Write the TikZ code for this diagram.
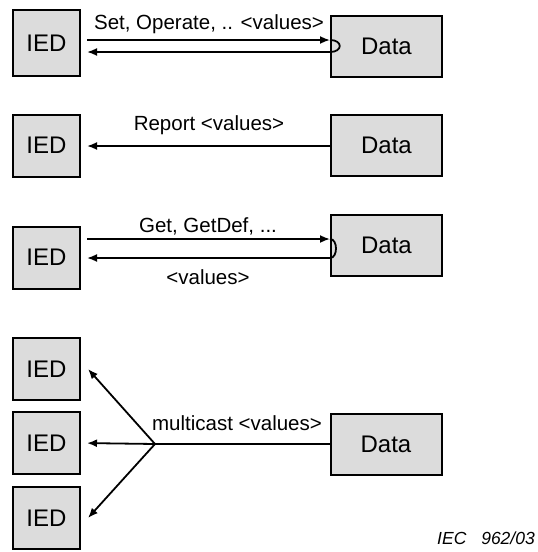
\documentclass[tikz,border=0pt]{standalone}
\usepackage{fontspec}
\setmainfont{Liberation Sans}
\usetikzlibrary{arrows.meta}
\definecolor{boxgray}{HTML}{DCDCDC}
\tikzset{
  box/.style={draw=black, line width=2pt, fill=boxgray, inner sep=0pt,
    font=\fontsize{24}{28}\selectfont},
  iedbox/.style={box, minimum width=67pt, minimum height=62pt},
  databox/.style={box, minimum width=111pt, minimum height=61pt},
  arr/.style={line width=1.8pt, -{Latex[length=10pt,width=8pt]}},
  plain/.style={line width=1.8pt},
  lbl/.style={font=\fontsize{20.5}{24}\selectfont, inner sep=0pt},
}
\begin{document}
\begin{tikzpicture}[x=1pt,y=-1pt]
\useasboundingbox (0,0) rectangle (538,552);
% row 1
\node[iedbox, minimum height=66pt] (i1) at (46.5,43) {IED};
\node[databox] (d1) at (386.5,46) {Data};
\coordinate (y1t) at (0,40);
\coordinate (y1b) at (0,52);
\draw[arr, shorten <=6pt] (i1.east |- y1t) -- (d1.west |- y1t);
\draw[arr, shorten >=6pt] (d1.west |- y1b) -- (i1.east |- y1b);
\draw[plain] (d1.west |- y1t) .. controls +(13,0) and +(13,0) .. (d1.west |- y1b);
\node[lbl] (l1) at (209,24) {Set, Operate, .. <values>};
% row 2
\node[iedbox] (i2) at (46.5,145.5) {IED};
\node[databox] (d2) at (386.5,145.5) {Data};
\coordinate (y2) at (0,146);
\draw[arr, shorten >=6pt] (d2.west |- y2) -- (i2.east |- y2);
\node[lbl] (l2) at (209,125) {Report <values>};
% row 3
\node[iedbox] (i3) at (46.5,257.5) {IED};
\node[databox] (d3) at (386.5,245) {Data};
\coordinate (y3t) at (0,239);
\coordinate (y3b) at (0,258);
\draw[arr, shorten <=6pt] (i3.east |- y3t) -- (d3.west |- y3t);
\draw[arr, shorten >=6pt] (d3.west |- y3b) -- (i3.east |- y3b);
\draw[plain] (d3.west |- y3t) .. controls +(8,0) and +(8,0) .. (d3.west |- y3b);
\node[lbl] (l3a) at (208,226) {Get, GetDef, ...};
\node[lbl] (l3b) at (208,277) {<values>};
% row 4
\node[iedbox] (i41) at (46.5,369) {IED};
\node[iedbox] (i42) at (46.5,443) {IED};
\node[iedbox] (i43) at (46.5,518) {IED};
\node[databox] (d4) at (386,444) {Data};
\coordinate (f) at (155,444);
\draw[plain] (d4.west) -- (f);
\draw[arr] (f) -- ([xshift=7pt]i41.east);
\draw[arr, shorten >=6pt] (f) -- (i42.east);
\draw[arr] (f) -- ([xshift=7pt]i43.east);
\node[lbl] (l4) at (237,423) {multicast <values>};
\node[anchor=east, inner sep=0pt, font=\fontsize{17.5}{20}\selectfont\itshape] (iec) at (535,538) {IEC\hspace{10pt} 962/03};
\end{tikzpicture}
\end{document}
